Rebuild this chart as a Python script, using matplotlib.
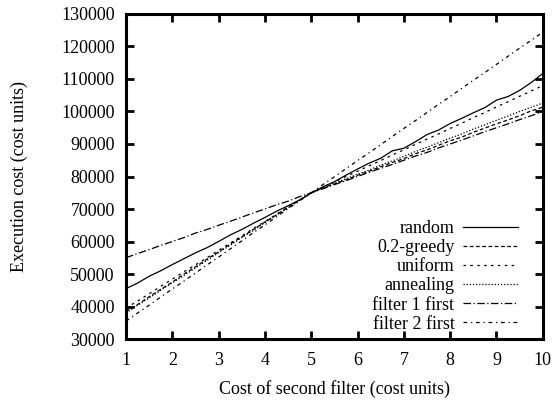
import numpy as np
import matplotlib.pyplot as plt

plt.rcParams['font.family'] = ['Liberation Serif', 'DejaVu Serif']
plt.rcParams['font.size'] = 13

cost2 = np.arange(1, 10.01, 0.25)

random_cost = [45500, 47200, 49300, 51000, 52900, 54700, 56500, 58100, 60000,
               62000, 63700, 65600, 67400, 69300, 71000, 72800, 74900, 76800,
               78400, 80400, 82300, 84100, 85600, 87900, 88700, 90700, 92900,
               94300, 96300, 97900, 99600, 101200, 103500, 104600, 106500,
               108900, 111700]
greedy_cost = [38500, 40600, 43000, 45300, 47500, 50000, 52200, 54600, 56800,
               59200, 61400, 63700, 66000, 68200, 70600, 72700, 75000, 76500,
               77700, 79000, 80400, 81600, 83000, 84300, 85500, 87000, 88200,
               89600, 91000, 92100, 93600, 94900, 96200, 97400, 98700, 100200,
               101300]
uniform_cost = [39500, 41700, 43900, 46200, 48400, 50700, 52800, 55000, 57300,
                59500, 61700, 64000, 66100, 68400, 70600, 72800, 75000, 76700,
                78300, 80000, 81600, 83300, 84900, 86600, 88200, 89900, 91500,
                93100, 94800, 96400, 98100, 99700, 101400, 103000, 104700,
                106300, 108000]
annealing_cost = [38000, 40400, 42600, 45000, 47300, 49500, 51900, 54200, 56600,
                  58800, 61200, 63400, 65800, 68100, 70300, 72700, 75000, 76500,
                  77900, 79300, 80700, 82000, 83500, 84800, 86200, 87700, 89000,
                  90400, 91800, 93100, 94600, 95900, 97300, 98600, 100000,
                  101300, 102600]
f1_first = [55000, 56300, 57500, 58800, 60000, 61200, 62600, 63700, 65000,
            66200, 67500, 68800, 70000, 71300, 72400, 73800, 75000, 76200,
            77500, 78700, 80000, 81300, 82500, 83700, 85000, 86300, 87400,
            88800, 90000, 91200, 92500, 93800, 95000, 96200, 97500, 98700,
            100000]
f2_first = [35500, 38000, 40400, 42900, 45400, 47800, 50300, 52800, 55200,
            57700, 60200, 62700, 65100, 67600, 70100, 72500, 75000, 77500,
            79900, 82400, 84900, 87300, 89800, 92300, 94800, 97200, 99700,
            102200, 104600, 107100, 109600, 112000, 114500, 117000, 119500,
            121900, 124400]

fig = plt.figure(figsize=(5.55, 4.01), dpi=100)
ax = fig.add_axes([0.227, 0.1546, 0.751, 0.8105])

lw = 0.9
ax.plot(cost2, random_cost, color='black', lw=lw, linestyle='-', label='random')
ax.plot(cost2, greedy_cost, color='black', lw=lw, linestyle=(0, (3, 2)), label='0.2-greedy')
ax.plot(cost2, uniform_cost, color='black', lw=lw, linestyle=(0, (2, 3.5)), label='uniform')
ax.plot(cost2, annealing_cost, color='black', lw=lw, linestyle=(0, (1, 1.5)), label='annealing')
ax.plot(cost2, f1_first, color='black', lw=lw, linestyle=(0, (6, 2, 1, 2)), label='filter 1 first')
ax.plot(cost2, f2_first, color='black', lw=lw, linestyle=(0, (3, 3, 1, 3)), label='filter 2 first')

ax.set_xlim(1, 10)
ax.set_ylim(30000, 130000)
ax.set_xticks(range(1, 11))
ax.set_yticks(range(30000, 130001, 10000))

for s in ax.spines.values():
    s.set_linewidth(2.2)
ax.tick_params(direction='in', length=6, width=2, top=True, right=True)
ax.tick_params(axis='x', pad=9)
ax.tick_params(axis='y', pad=8)

ax.set_xlabel('Cost of second filter (cost units)', labelpad=8)
ax.set_ylabel('Execution cost (cost units)', labelpad=24)

ax.legend(loc='lower right', bbox_to_anchor=(0.957, -0.003), borderaxespad=0,
          frameon=False, markerfirst=False, handlelength=3.05,
          labelspacing=0.12, handletextpad=0.45)

fig.savefig('out.png', dpi=100)
